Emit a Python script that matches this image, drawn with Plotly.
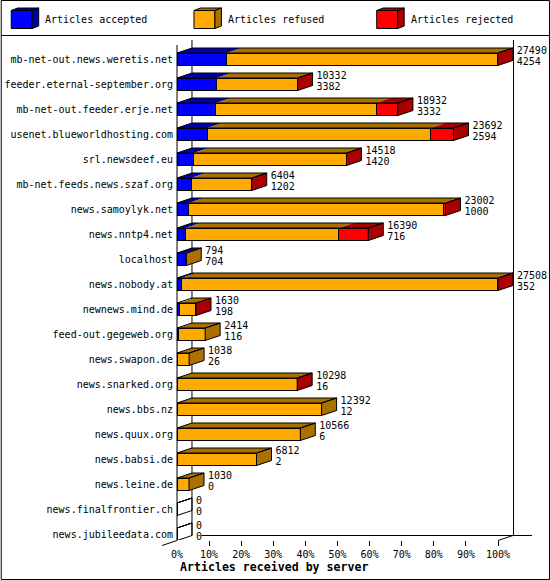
import plotly.graph_objects as go

hosts = ["mb-net-out.news.weretis.net", "feeder.eternal-september.org", "mb-net-out.feeder.erje.net",
         "usenet.blueworldhosting.com", "srl.newsdeef.eu", "mb-net.feeds.news.szaf.org",
         "news.samoylyk.net", "news.nntp4.net", "localhost", "news.nobody.at", "newnews.mind.de",
         "feed-out.gegeweb.org", "news.swapon.de", "news.snarked.org", "news.bbs.nz", "news.quux.org",
         "news.babsi.de", "news.leine.de", "news.finalfrontier.ch", "news.jubileedata.com"]
offered = [27490, 10332, 18932, 23692, 14518, 6404, 23002, 16390, 794, 27508, 1630,
           2414, 1038, 10298, 12392, 10566, 6812, 1030, 0, 0]
accepted = [4254, 3382, 3332, 2594, 1420, 1202, 1000, 716, 704, 352, 198,
            116, 26, 16, 12, 6, 2, 0, 0, 0]
rejected = [20, 20, 1880, 1950, 30, 20, 150, 2530, 0, 20, 10,
            0, 0, 10, 0, 0, 0, 0, 0, 0]
percent_ticks = [0, 10, 20, 30, 40, 50, 60, 70, 80, 90, 100]
legend_names = ["Articles accepted", "Articles refused", "Articles rejected"]

front_colors = ["#0000ff", "#ffaa00", "#ff0000"]
dark_colors = ["#0000aa", "#aa7100", "#aa0000"]
FONT = "DejaVu Sans Mono"

# pixel layout of the plot box
W, H = 550, 580
L, R, T, B = 176.5, 532, 40, 540
PX_PER_PCT = 3.215
PX_PER_ROW = 25
DX = 15 / PX_PER_PCT  # depth of the 3d effect, in axis units
DY = 5 / PX_PER_ROW
BAR = 0.5


def px(x):
    return (x - L) / (R - L)


def py(y):
    return (B - y) / (B - T)


def pct(v):
    return v / max(offered) * 100


def line(x0, y0, x1, y1):
    return dict(type="line", xref="paper", yref="paper", x0=px(x0), y0=py(y0), x1=px(x1), y1=py(y1),
                line=dict(color="black", width=1), layer="below")


def box(x, y, w, h, d, color, dark):
    # little 3d box for the legend
    faces = [
        ([(x, y), (x + w, y), (x + w, y + h), (x, y + h)], color),
        ([(x, y), (x + d, y - 2.5), (x + w + d, y - 2.5), (x + w, y)], dark),
        ([(x + w, y), (x + w + d, y - 2.5), (x + w + d, y + h - 2.5), (x + w, y + h)], dark),
    ]
    out = []
    for pts, c in faces:
        path = "M" + " L".join(f"{px(a)},{py(b)}" for a, b in pts) + " Z"
        out.append(dict(type="path", xref="paper", yref="paper", path=path, fillcolor=c,
                        line=dict(color="black", width=1)))
    return out


rows = list(range(len(hosts)))
refused = [o - a - r for o, a, r in zip(offered, accepted, rejected)]
series = [accepted, refused, rejected]

fig = go.Figure()

# front faces
for name, vals, c in zip(legend_names, series, front_colors):
    fig.add_trace(go.Bar(y=rows, x=[pct(v) for v in vals], name=name, orientation="h", width=BAR,
                         marker=dict(color=c, line=dict(color="black", width=1)), showlegend=False))

# top and side faces, worked out from the same values
top_x = [[], [], []]
top_y = [[], [], []]
side_x = [[], [], []]
side_y = [[], [], []]
out_x = []
out_y = []
for i in rows:
    t = i - BAR / 2
    b = i + BAR / 2
    start = 0
    last = None
    for k, vals in enumerate(series):
        if vals[i] > 0:
            end = start + pct(vals[i])
            top_x[k] += [start, start + DX, end + DX, end, start, None]
            top_y[k] += [t, t - DY, t - DY, t, t, None]
            start = end
            last = k
    end = pct(offered[i])
    sx = [end, end + DX, end + DX, end, end, None]
    sy = [t, t - DY, b - DY, b, t, None]
    if last is not None:
        side_x[last] += sx
        side_y[last] += sy
    out_x += [0, DX, end + DX, end, 0, None] + sx
    out_y += [t, t - DY, t - DY, t, t, None] + sy

for k in range(3):
    fig.add_trace(go.Scatter(x=top_x[k] + side_x[k], y=top_y[k] + side_y[k], mode="lines", fill="toself",
                             fillcolor=dark_colors[k], line=dict(width=0), hoverinfo="skip", showlegend=False))
fig.add_trace(go.Scatter(x=out_x, y=out_y, mode="lines", line=dict(color="black", width=1),
                         hoverinfo="skip", showlegend=False))

# the two numbers beside each bar
label_x = [pct(o) + DX + 4 / PX_PER_PCT for o in offered]
fig.add_trace(go.Scatter(x=label_x, y=[i - 0.33 for i in rows], mode="text", text=[str(v) for v in offered],
                         textposition="middle right", textfont=dict(family=FONT, size=10, color="black"),
                         cliponaxis=False, hoverinfo="skip", showlegend=False))
fig.add_trace(go.Scatter(x=label_x, y=[i + 0.11 for i in rows], mode="text", text=[str(v) for v in accepted],
                         textposition="middle right", textfont=dict(family=FONT, size=10, color="black"),
                         cliponaxis=False, hoverinfo="skip", showlegend=False))

shapes = [
    dict(type="rect", xref="paper", yref="paper", x0=px(0.5), y0=py(0.5), x1=px(549.5), y1=py(579.5),
         line=dict(color="black", width=1), layer="below"),
    line(0.5, 35.5, 549.5, 35.5),
    line(191.5, 40, 191.5, 535.5),
    line(513.5, 40, 513.5, 535.5),
    line(176.5, 45, 176.5, 540.5),
    line(201, 535.5, 532, 535.5),
    line(161.5, 545.5, 176.5, 540.5),
    line(498, 540.5, 513, 535.5),
]
shapes += box(10.5, 10.5, 21, 18, 6.5, front_colors[0], dark_colors[0])
shapes += box(193.5, 10.5, 21, 18, 6.5, front_colors[1], dark_colors[1])
shapes += box(376.5, 10.5, 21, 18, 6.5, front_colors[2], dark_colors[2])

annotations = []
for name, x in zip(legend_names, [42.5, 225.5, 408.5]):
    annotations.append(dict(text=name, xref="paper", yref="paper", x=px(x), y=py(20), xanchor="left",
                            yanchor="middle", showarrow=False, font=dict(family=FONT, size=10, color="black")))
annotations.append(dict(text="<b>Articles received by server</b>", xref="paper", yref="paper", x=px(274), y=py(567),
                        xanchor="center", yanchor="middle", showarrow=False,
                        font=dict(family=FONT, size=11.6, color="black")))

fig.update_layout(
    width=W, height=H, barmode="stack", bargap=0.5, showlegend=False,
    paper_bgcolor="white", plot_bgcolor="rgba(0,0,0,0)",
    margin=dict(l=L, r=W - R, t=T, b=H - B, pad=0, autoexpand=False),
    shapes=shapes, annotations=annotations,
)
fig.update_xaxes(range=[0, (R - L) / PX_PER_PCT], tickvals=percent_ticks, ticktext=[f"{p}%" for p in percent_ticks],
                 ticks="outside", ticklen=5, tickcolor="rgba(0,0,0,0)", showgrid=False, zeroline=False, showline=False,
                 minor=dict(tickvals=percent_ticks[1:], ticks="outside", ticklen=5, tickcolor="black", tickwidth=1),
                 tickfont=dict(family=FONT, size=10, color="black"))
fig.update_yaxes(range=[(B - 59.25) / PX_PER_ROW, (T - 59.25) / PX_PER_ROW], tickvals=rows, ticktext=hosts,
                 ticks="", showgrid=False, zeroline=False, showline=False, ticklabelstandoff=3,
                 tickfont=dict(family=FONT, size=10, color="black"))

fig.write_html("out.html", config={"displayModeBar": False},
               post_script="document.body.style.margin='0';document.body.style.overflow='hidden';")
